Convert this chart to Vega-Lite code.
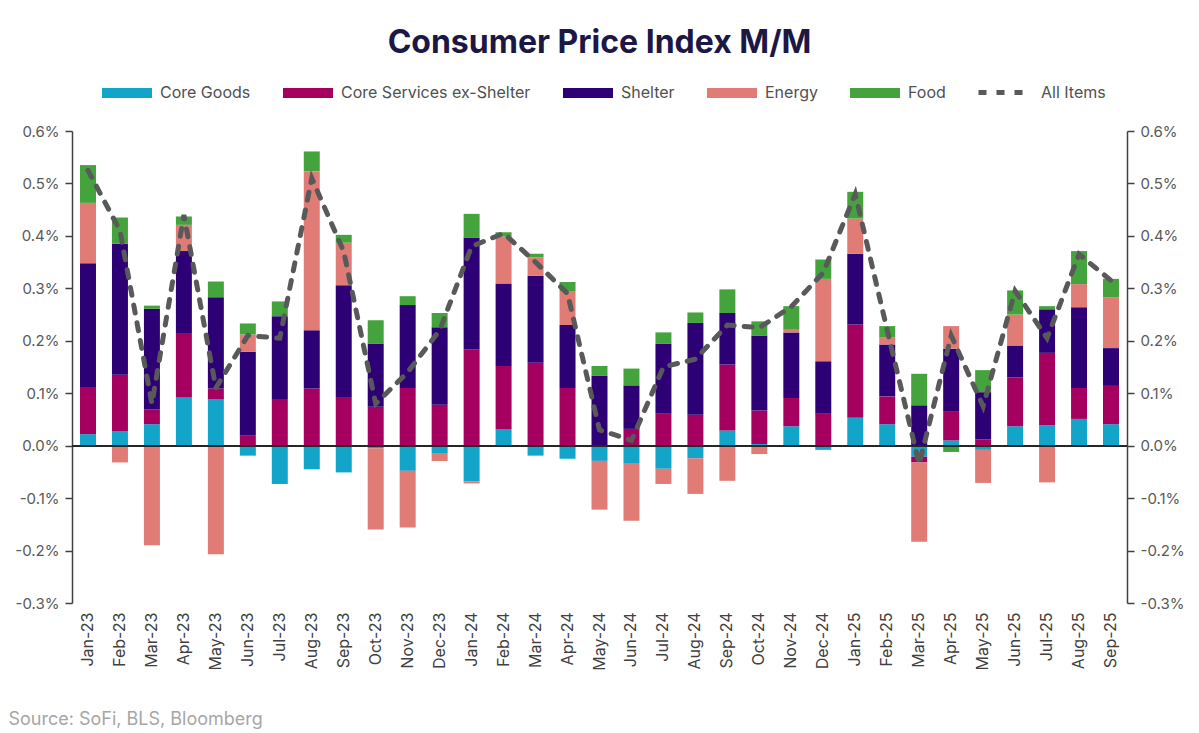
{
  "$schema": "https://vega.github.io/schema/vega-lite/v6.json",
  "description": "Consumer Price Index M/M contributions",
  "background": "white",
  "autosize": "none",
  "padding": {"left": 72, "top": 131, "right": 72, "bottom": 130},
  "width": 1055,
  "height": 472,
  "title": {
    "text": "Consumer Price Index M/M",
    "anchor": "middle",
    "font": "Inter",
    "fontSize": 32,
    "fontWeight": "bold",
    "color": "#1c1745",
    "offset": 4
  },
  "data": {
    "values": [
      {"m": "Jan-23", "Core Goods": 0.022, "Core Services ex-Shelter": 0.090, "Shelter": 0.236, "Energy": 0.115, "Food": 0.072, "All Items": 0.525},
      {"m": "Feb-23", "Core Goods": 0.027, "Core Services ex-Shelter": 0.108, "Shelter": 0.250, "Energy": -0.032, "Food": 0.050, "All Items": 0.41},
      {"m": "Mar-23", "Core Goods": 0.041, "Core Services ex-Shelter": 0.028, "Shelter": 0.192, "Energy": -0.190, "Food": 0.006, "All Items": 0.08},
      {"m": "Apr-23", "Core Goods": 0.092, "Core Services ex-Shelter": 0.123, "Shelter": 0.156, "Energy": 0.050, "Food": 0.016, "All Items": 0.44},
      {"m": "May-23", "Core Goods": 0.088, "Core Services ex-Shelter": 0.021, "Shelter": 0.174, "Energy": -0.207, "Food": 0.030, "All Items": 0.11},
      {"m": "Jun-23", "Core Goods": -0.019, "Core Services ex-Shelter": 0.020, "Shelter": 0.159, "Energy": 0.033, "Food": 0.021, "All Items": 0.21},
      {"m": "Jul-23", "Core Goods": -0.073, "Core Services ex-Shelter": 0.089, "Shelter": 0.158, "Energy": 0.0, "Food": 0.028, "All Items": 0.205},
      {"m": "Aug-23", "Core Goods": -0.045, "Core Services ex-Shelter": 0.109, "Shelter": 0.111, "Energy": 0.303, "Food": 0.038, "All Items": 0.51},
      {"m": "Sep-23", "Core Goods": -0.051, "Core Services ex-Shelter": 0.093, "Shelter": 0.213, "Energy": 0.081, "Food": 0.015, "All Items": 0.37},
      {"m": "Oct-23", "Core Goods": -0.005, "Core Services ex-Shelter": 0.074, "Shelter": 0.121, "Energy": -0.155, "Food": 0.044, "All Items": 0.08},
      {"m": "Nov-23", "Core Goods": -0.048, "Core Services ex-Shelter": 0.110, "Shelter": 0.158, "Energy": -0.108, "Food": 0.017, "All Items": 0.14},
      {"m": "Dec-23", "Core Goods": -0.014, "Core Services ex-Shelter": 0.078, "Shelter": 0.148, "Energy": -0.015, "Food": 0.027, "All Items": 0.22},
      {"m": "Jan-24", "Core Goods": -0.068, "Core Services ex-Shelter": 0.184, "Shelter": 0.213, "Energy": -0.004, "Food": 0.045, "All Items": 0.38},
      {"m": "Feb-24", "Core Goods": 0.032, "Core Services ex-Shelter": 0.120, "Shelter": 0.157, "Energy": 0.090, "Food": 0.008, "All Items": 0.405},
      {"m": "Mar-24", "Core Goods": -0.019, "Core Services ex-Shelter": 0.158, "Shelter": 0.166, "Energy": 0.035, "Food": 0.007, "All Items": 0.35},
      {"m": "Apr-24", "Core Goods": -0.025, "Core Services ex-Shelter": 0.110, "Shelter": 0.120, "Energy": 0.065, "Food": 0.017, "All Items": 0.29},
      {"m": "May-24", "Core Goods": -0.029, "Core Services ex-Shelter": 0.0, "Shelter": 0.134, "Energy": -0.093, "Food": 0.018, "All Items": 0.03},
      {"m": "Jun-24", "Core Goods": -0.033, "Core Services ex-Shelter": 0.032, "Shelter": 0.083, "Energy": -0.110, "Food": 0.032, "All Items": 0.01},
      {"m": "Jul-24", "Core Goods": -0.044, "Core Services ex-Shelter": 0.062, "Shelter": 0.133, "Energy": -0.029, "Food": 0.021, "All Items": 0.15},
      {"m": "Aug-24", "Core Goods": -0.024, "Core Services ex-Shelter": 0.059, "Shelter": 0.175, "Energy": -0.068, "Food": 0.020, "All Items": 0.165},
      {"m": "Sep-24", "Core Goods": 0.029, "Core Services ex-Shelter": 0.126, "Shelter": 0.098, "Energy": -0.067, "Food": 0.045, "All Items": 0.23},
      {"m": "Oct-24", "Core Goods": 0.003, "Core Services ex-Shelter": 0.064, "Shelter": 0.143, "Energy": -0.016, "Food": 0.027, "All Items": 0.225},
      {"m": "Nov-24", "Core Goods": 0.037, "Core Services ex-Shelter": 0.054, "Shelter": 0.125, "Energy": 0.005, "Food": 0.045, "All Items": 0.265},
      {"m": "Dec-24", "Core Goods": -0.008, "Core Services ex-Shelter": 0.061, "Shelter": 0.100, "Energy": 0.157, "Food": 0.037, "All Items": 0.33},
      {"m": "Jan-25", "Core Goods": 0.053, "Core Services ex-Shelter": 0.178, "Shelter": 0.135, "Energy": 0.067, "Food": 0.051, "All Items": 0.48},
      {"m": "Feb-25", "Core Goods": 0.041, "Core Services ex-Shelter": 0.053, "Shelter": 0.099, "Energy": 0.013, "Food": 0.022, "All Items": 0.22},
      {"m": "Mar-25", "Core Goods": -0.021, "Core Services ex-Shelter": -0.011, "Shelter": 0.077, "Energy": -0.151, "Food": 0.060, "All Items": -0.035},
      {"m": "Apr-25", "Core Goods": 0.010, "Core Services ex-Shelter": 0.056, "Shelter": 0.119, "Energy": 0.043, "Food": -0.012, "All Items": 0.21},
      {"m": "May-25", "Core Goods": -0.008, "Core Services ex-Shelter": 0.012, "Shelter": 0.090, "Energy": -0.063, "Food": 0.042, "All Items": 0.075},
      {"m": "Jun-25", "Core Goods": 0.037, "Core Services ex-Shelter": 0.093, "Shelter": 0.061, "Energy": 0.059, "Food": 0.046, "All Items": 0.295},
      {"m": "Jul-25", "Core Goods": 0.039, "Core Services ex-Shelter": 0.138, "Shelter": 0.083, "Energy": -0.070, "Food": 0.006, "All Items": 0.205},
      {"m": "Aug-25", "Core Goods": 0.051, "Core Services ex-Shelter": 0.059, "Shelter": 0.154, "Energy": 0.044, "Food": 0.063, "All Items": 0.365},
      {"m": "Sep-25", "Core Goods": 0.041, "Core Services ex-Shelter": 0.073, "Shelter": 0.072, "Energy": 0.097, "Food": 0.035, "All Items": 0.315}
    ]
  },
  "layer": [
    {
      "transform": [
        {"fold": ["Core Goods", "Core Services ex-Shelter", "Shelter", "Energy", "Food"], "as": ["Component", "v"]},
        {"calculate": "indexof(['Core Goods', 'Core Services ex-Shelter', 'Shelter', 'Energy', 'Food'], datum.Component)", "as": "ord"}
      ],
      "mark": {"type": "bar"},
      "encoding": {
        "x": {
          "field": "m",
          "type": "nominal",
          "sort": null,
          "scale": {"paddingInner": 0.5, "paddingOuter": 0.25},
          "axis": {
            "orient": "bottom",
            "domain": false,
            "ticks": false,
            "labelAngle": -90,
            "labelPadding": 9,
            "labelFont": "Inter",
            "labelFontSize": 16,
            "labelColor": "#404040",
            "title": "Source: SoFi, BLS, Bloomberg",
            "titleAnchor": "start",
            "titleAlign": "left",
            "titleBaseline": "alphabetic",
            "titleX": -64,
            "titleY": 121,
            "titleFont": "Inter",
            "titleFontSize": 18,
            "titleFontWeight": "normal",
            "titleColor": "#a6a6a6"
          }
        },
        "y": {
          "field": "v",
          "type": "quantitative",
          "stack": "zero",
          "scale": {"domain": [-0.3, 0.6], "nice": false, "zero": false},
          "axis": {
            "orient": "left",
            "title": null,
            "values": [-0.3, -0.2, -0.1, 0, 0.1, 0.2, 0.3, 0.4, 0.5, 0.6],
            "labelExpr": "replace(format(datum.value, '.1f'), '\u2212', '-') + '%'",
            "grid": false,
            "domainColor": "#404040",
            "domainWidth": 1.5,
            "tickColor": "#404040",
            "tickWidth": 1.5,
            "tickSize": 7,
            "labelPadding": 6,
            "labelFont": "Inter",
            "labelFontSize": 15,
            "labelColor": "#595959"
          }
        },
        "color": {
          "field": "Component",
          "type": "nominal",
          "scale": {
            "domain": ["Core Goods", "Core Services ex-Shelter", "Shelter", "Energy", "Food"],
            "range": ["#12a4c9", "#a5005f", "#2e0076", "#e07b76", "#45a33d"]
          },
          "legend": {
            "orient": "none",
            "legendX": 30,
            "legendY": -63,
            "direction": "horizontal",
            "title": null,
            "symbolType": "M-1,-0.2H1V0.2H-1Z",
            "symbolSize": 2500,
            "symbolStrokeWidth": 0,
            "symbolOpacity": 1,
            "labelFont": "Inter",
            "labelFontSize": 16,
            "labelColor": "#505050",
            "labelLimit": 400,
            "labelOffset": 8,
            "columnPadding": 32
          }
        },
        "order": {"field": "ord", "type": "quantitative"}
      }
    },
    {
      "mark": {"type": "rule", "color": "#262626", "strokeWidth": 1.5},
      "encoding": {"y": {"datum": 0, "type": "quantitative", "axis": null}}
    },
    {
      "mark": {"type": "line", "color": "#595959", "strokeWidth": 5, "strokeCap": "round"},
      "encoding": {
        "x": {"field": "m", "type": "nominal", "sort": null},
        "y": {
          "field": "All Items",
          "type": "quantitative",
          "axis": {
            "orient": "right",
            "title": null,
            "values": [-0.3, -0.2, -0.1, 0, 0.1, 0.2, 0.3, 0.4, 0.5, 0.6],
            "labelExpr": "replace(format(datum.value, '.1f'), '\u2212', '-') + '%'",
            "grid": false,
            "domainColor": "#404040",
            "domainWidth": 1.5,
            "tickColor": "#404040",
            "tickWidth": 1.5,
            "tickSize": 7,
            "labelPadding": 6,
            "labelFont": "Inter",
            "labelFontSize": 15,
            "labelColor": "#595959"
          }
        },
        "strokeDash": {
          "datum": "All Items",
          "type": "nominal",
          "scale": {"range": [[8, 10]]},
          "legend": {
            "orient": "none",
            "legendX": 904,
            "legendY": -67,
            "title": null,
            "symbolType": "stroke",
            "symbolSize": 2704,
            "symbolStrokeWidth": 5,
            "symbolStrokeColor": "#595959",
            "labelFont": "Inter",
            "labelFontSize": 16,
            "labelColor": "#505050",
            "labelOffset": 8
          }
        }
      }
    }
  ],
  "resolve": {"scale": {"y": "shared"}, "axis": {"y": "independent"}},
  "config": {"view": {"stroke": null}}
}
